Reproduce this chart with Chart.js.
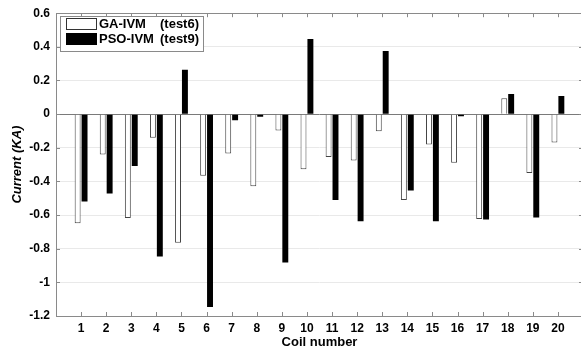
<!DOCTYPE html>
<html>
<head>
<meta charset="utf-8">
<script src="https://cdn.jsdelivr.net/npm/chart.js@4/dist/chart.umd.min.js"></script>
<style>
html,body{margin:0;padding:0;overflow:hidden;background:#fff;width:581px;height:352px;}
canvas{display:block;}
</style>
</head>
<body>
<canvas id="c" width="588" height="352" style="width:588px;height:352px"></canvas>
<script>
// ---- data ----
const coils = [1,2,3,4,5,6,7,8,9,10,11,12,13,14,15,16,17,18,19,20];
const gaIVM = [-0.649,-0.240,-0.617,-0.141,-0.764,-0.366,-0.234,-0.428,-0.098,-0.328,-0.255,-0.275,-0.102,-0.511,-0.180,-0.289,-0.623,0.094,-0.350,-0.169];
const psoIVM = [-0.519,-0.472,-0.308,-0.847,0.264,-1.146,-0.037,-0.015,-0.882,0.446,-0.511,-0.637,0.376,-0.454,-0.637,-0.013,-0.627,0.120,-0.615,0.108];
const seriesNames = ['GA-IVM','PSO-IVM'];
const seriesTests = ['(test6)','(test9)'];
const yTickValues = [0.6,0.4,0.2,0,-0.2,-0.4,-0.6,-0.8,-1,-1.2];
const xTitle = 'Coil number';
const yTitle = 'Current (KA)';

const FONT = 'Liberation Sans, Arial, Helvetica, sans-serif';
const AXIS = '#8a8a8a';

const framePlugin = {
  id: 'frame',
  afterDraw(chart) {
    const {ctx, chartArea: a, scales: {x, y}} = chart;
    ctx.save();
    ctx.strokeStyle = AXIS;
    ctx.lineWidth = 1;
    // box
    ctx.strokeRect(Math.round(a.left)+0.5, Math.round(a.top)+0.5, Math.round(a.right-a.left), Math.round(a.bottom-a.top));
    // x ticks (top and bottom, inward)
    ctx.beginPath();
    for (let i = 0; i <= 21; i++) {
      const px = Math.round(x.getPixelForValue(i)) + 0.5;
      ctx.moveTo(px, a.top); ctx.lineTo(px, a.top + 4);
      ctx.moveTo(px, a.bottom); ctx.lineTo(px, a.bottom - 4);
    }
    // y ticks (left and right, inward)
    yTickValues.forEach(v => {
      const py = Math.round(y.getPixelForValue(v)) + 0.5;
      ctx.moveTo(a.left, py); ctx.lineTo(a.left + 4, py);
      ctx.moveTo(a.right, py); ctx.lineTo(a.right - 4, py);
    });
    ctx.stroke();
    // legend
    const lx = 60, ly = 16, lw = 143, lh = 35;
    ctx.fillStyle = '#fff';
    ctx.fillRect(lx, ly, lw, lh);
    ctx.strokeStyle = '#8a8a8a';
    ctx.strokeRect(lx + 0.5, ly + 0.5, lw, lh);
    const rows = [ {fill:'#ffffff', stroke:'#333', y: 18.5}, {fill:'#000000', stroke:'#000', y: 33.5} ];
    ctx.font = 'bold 13px ' + FONT;
    ctx.textBaseline = 'middle';
    rows.forEach((r, i) => {
      ctx.fillStyle = r.fill;
      ctx.fillRect(66.5, r.y, 30, 11);
      ctx.strokeStyle = r.stroke;
      ctx.strokeRect(66.5, r.y, 30, 11);
      ctx.fillStyle = '#000';
      ctx.fillText(seriesNames[i], 99, r.y + 6);
      ctx.fillText(seriesTests[i], 160, r.y + 6);
    });
    ctx.restore();
  }
};

new Chart(document.getElementById('c'), {
  type: 'bar',
  data: {
    datasets: [
      {
        label: seriesNames[0] + ' ' + seriesTests[0],
        data: coils.map((c, i) => ({x: c, y: gaIVM[i]})),
        backgroundColor: '#ffffff',
        borderColor: '#444444',
        borderWidth: 1,
        categoryPercentage: 0.55,
        barPercentage: 0.86
      },
      {
        label: seriesNames[1] + ' ' + seriesTests[1],
        data: coils.map((c, i) => ({x: c, y: psoIVM[i]})),
        backgroundColor: '#000000',
        borderColor: '#000000',
        borderWidth: 0,
        categoryPercentage: 0.55,
        barPercentage: 0.86
      }
    ]
  },
  options: {
    responsive: false,
    animation: false,
    devicePixelRatio: 1,
    layout: { padding: { top: 11, right: 4, left: 0, bottom: 0 } },
    plugins: { legend: { display: false }, tooltip: { enabled: false } },
    scales: {
      x: {
        type: 'linear',
        min: 0, max: 21,
        offset: false,
        afterFit(s) { s.height = 36; },
        grid: { display: false, offset: false, drawTicks: false },
        border: { display: false },
        ticks: {
          stepSize: 1,
          autoSkip: false,
          maxRotation: 0,
          padding: 5,
          color: '#000',
          font: { family: FONT, size: 12, weight: 'bold' },
          callback: v => coils.includes(v) ? String(v) : ''
        },
        title: {
          display: true, text: xTitle, color: '#000',
          font: { family: FONT, size: 13, weight: 'bold' },
          padding: { top: 0, bottom: 2 }
        }
      },
      y: {
        min: -1.2, max: 0.6,
        afterFit(s) { s.width = 56; },
        afterBuildTicks(s) { s.ticks = yTickValues.map(v => ({value: v})); },
        grid: {
          drawTicks: false,
          color: c => (c.tick && Math.abs(c.tick.value) < 1e-9) ? '#7a7a7a' : '#e9e9e9',
          lineWidth: 1
        },
        border: { display: false },
        ticks: {
          padding: 6,
          color: '#000',
          font: { family: FONT, size: 12, weight: 'bold' },
          callback: v => String(Number(v.toFixed(1)))
        },
        title: {
          display: true, text: yTitle, color: '#000',
          font: { family: FONT, size: 13, weight: 'bold', style: 'italic' },
          padding: { top: 10, bottom: 0 }
        }
      }
    }
  },
  plugins: [framePlugin]
});
</script>
</body>
</html>
